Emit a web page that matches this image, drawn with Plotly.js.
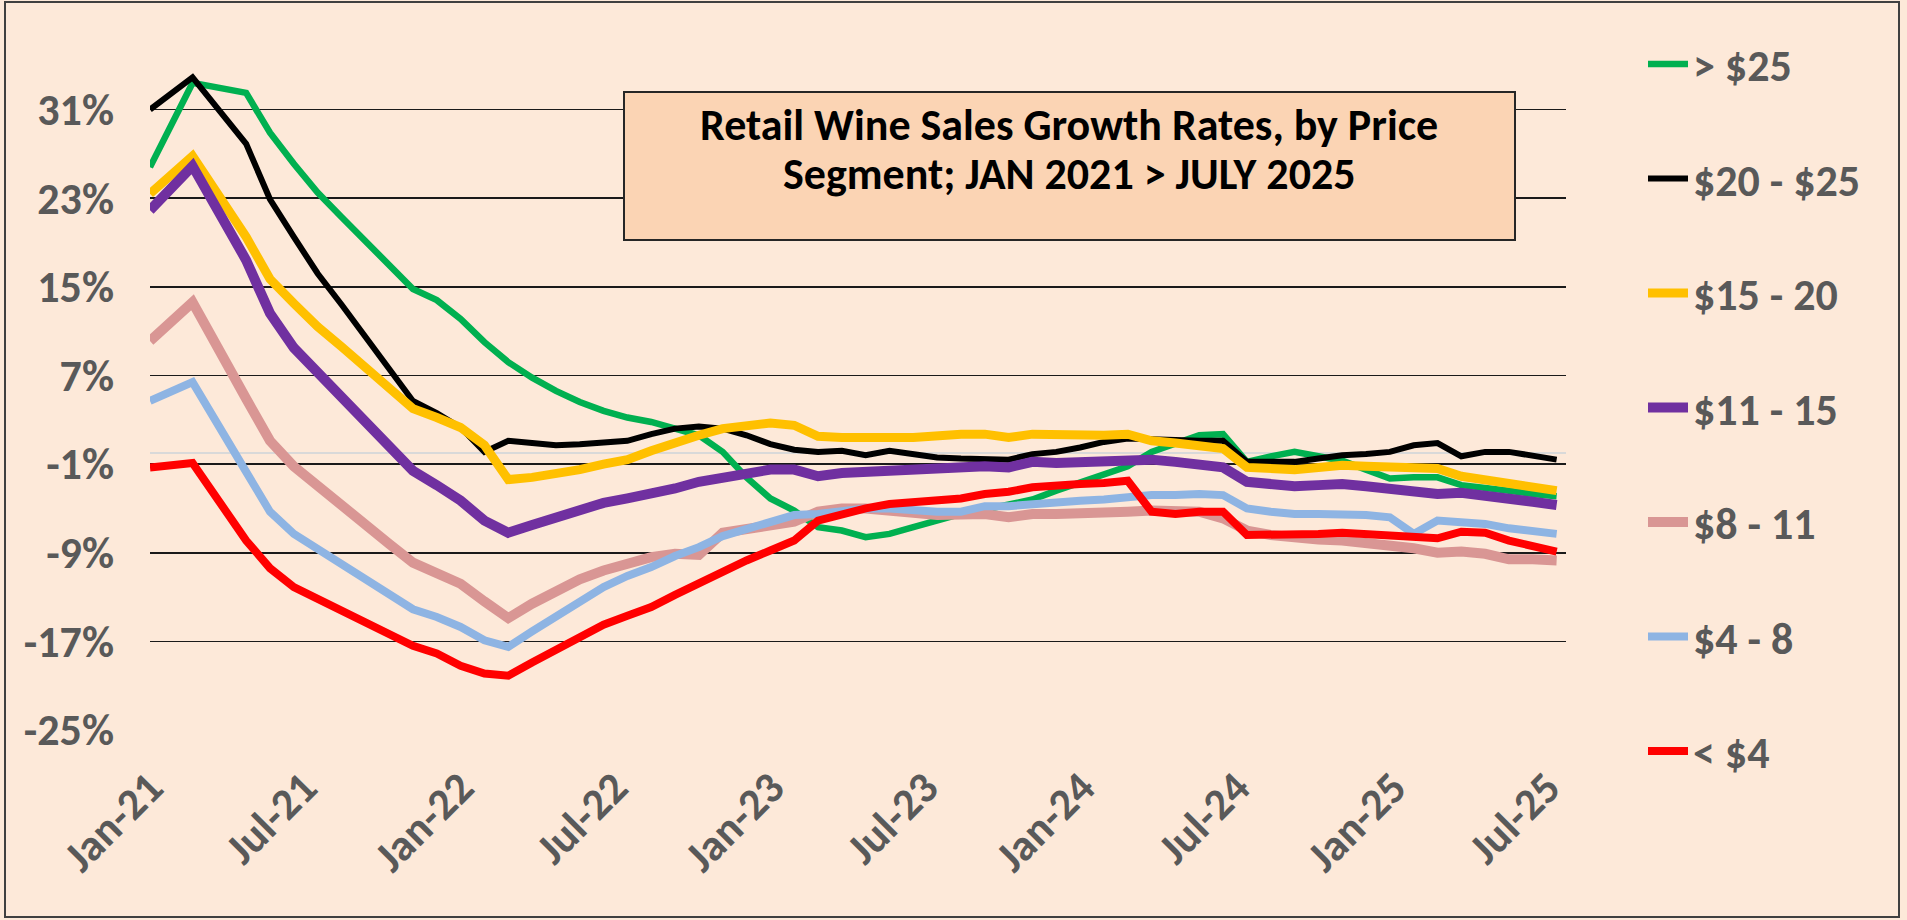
<!DOCTYPE html>
<html>
<head>
<meta charset="utf-8">
<script src="https://cdn.plot.ly/plotly-3.0.1.min.js"></script>
<style>
  html, body { margin: 0; padding: 0; background: #FDE9D9; }
  #chart { width: 1907px; height: 920px; }
</style>
</head>
<body>
<div id="chart"></div>
<script>
// ---- Data (4-week periods) ----
const periods = [
  '2021-01-01','2021-02-20','2021-04-24','2021-05-22','2021-06-19','2021-07-17','2021-08-14','2021-09-11','2021-10-09','2021-11-06',
  '2021-12-04','2022-01-01','2022-01-29','2022-02-26','2022-03-26','2022-04-23','2022-05-21','2022-06-18','2022-07-16','2022-08-13',
  '2022-09-10','2022-10-08','2022-11-05','2022-12-03','2022-12-31','2023-01-28','2023-02-25','2023-03-25','2023-04-22','2023-05-20',
  '2023-06-17','2023-07-15','2023-08-12','2023-09-09','2023-10-07','2023-11-04','2023-12-02','2023-12-30','2024-01-27','2024-02-24',
  '2024-03-23','2024-04-20','2024-05-18','2024-06-15','2024-07-13','2024-08-10','2024-09-07','2024-10-05','2024-11-02','2024-11-30',
  '2024-12-28','2025-01-25','2025-02-22','2025-03-22','2025-04-19','2025-05-17','2025-06-14','2025-07-12'
];

const over25 = [25.8, 33.4, 32.5, 28.9, 26.1, 23.5, 21.3, 19.2, 17.0, 14.8,
  13.8, 12.1, 10.0, 8.2, 6.8, 5.6, 4.6, 3.8, 3.2, 2.8,
  2.2, 1.6, 0.1, -2.2, -4.1, -5.2, -6.7, -7.0, -7.6, -7.3,
  -6.7, -6.1, -5.5, -5.1, -4.7, -4.2, -3.4, -2.7, -1.9, -1.2,
  0.1, 0.9, 1.6, 1.7, -0.8, -0.3, 0.1, -0.3, -0.7, -1.5,
  -2.3, -2.2, -2.2, -2.9, -3.1, -3.4, -3.7, -3.9];

const from20to25 = [31.0, 33.9, 27.9, 22.9, 19.5, 16.2, 13.4, 10.5, 7.6, 4.7,
  3.6, 2.3, 0.1, 1.1, 0.9, 0.7, 0.8, 1.0, 1.1, 1.7,
  2.2, 2.4, 2.2, 1.6, 0.8, 0.3, 0.1, 0.2, -0.2, 0.2,
  -0.1, -0.4, -0.5, -0.5, -0.6, -0.1, 0.1, 0.5, 1.0, 1.3,
  1.2, 1.2, 1.1, 1.1, -0.8, -0.8, -0.8, -0.5, -0.2, -0.1,
  0.1, 0.7, 0.9, -0.3, 0.1, 0.1, -0.2, -0.6];

const from15to20 = [23.4, 26.8, 19.5, 15.7, 13.5, 11.4, 9.6, 7.7, 5.8, 4.0,
  3.2, 2.3, 0.7, -2.4, -2.2, -1.9, -1.5, -1.0, -0.6, 0.2,
  1.0, 1.6, 2.2, 2.5, 2.7, 2.5, 1.5, 1.4, 1.3, 1.4,
  1.4, 1.6, 1.7, 1.7, 1.4, 1.7, 1.6, 1.6, 1.6, 1.7,
  1.1, 0.9, 0.7, 0.4, -1.3, -1.4, -1.5, -1.3, -1.1, -1.2,
  -1.3, -1.3, -1.4, -2.1, -2.4, -2.8, -3.1, -3.4];

const from11to15 = [21.9, 25.9, 17.4, 12.6, 9.5, 7.3, 5.1, 2.9, 0.6, -1.6,
  -2.9, -4.3, -6.1, -7.2, -6.5, -5.8, -5.2, -4.5, -4.1, -3.7,
  -3.2, -2.6, -2.2, -1.9, -1.5, -1.5, -2.1, -1.8, -1.7, -1.5,
  -1.4, -1.3, -1.3, -1.2, -1.3, -0.8, -0.9, -0.8, -0.7, -0.6,
  -0.6, -0.8, -1.0, -1.3, -2.6, -2.8, -3.0, -2.9, -2.8, -3.0,
  -3.2, -3.4, -3.7, -3.6, -3.8, -4.1, -4.4, -4.7];

const from8to11 = [10.1, 13.6, 4.9, 1.1, -1.2, -3.0, -4.7, -6.5, -8.2, -9.9,
  -10.9, -11.8, -13.4, -14.9, -13.6, -12.4, -11.4, -10.6, -10.0, -9.4,
  -9.1, -9.2, -7.2, -6.8, -6.4, -6.2, -5.3, -5.0, -5.0, -5.1,
  -5.4, -5.6, -5.6, -5.5, -5.8, -5.5, -5.5, -5.5, -5.4, -5.3,
  -5.2, -5.2, -5.3, -5.9, -7.0, -7.4, -7.7, -7.8, -7.9, -8.1,
  -8.3, -8.6, -9.0, -8.9, -9.1, -9.6, -9.6, -9.7];

const from4to8 = [4.7, 6.4, -1.7, -5.3, -7.3, -8.7, -10.1, -11.4, -12.8, -14.1,
  -14.8, -15.7, -16.9, -17.5, -16.1, -14.8, -13.4, -12.1, -11.1, -10.3,
  -9.3, -8.5, -7.5, -6.9, -6.2, -5.6, -5.5, -5.2, -5.0, -5.0,
  -5.2, -5.3, -5.3, -4.8, -4.8, -4.6, -4.5, -4.3, -4.2, -4.0,
  -3.8, -3.8, -3.7, -3.8, -5.0, -5.3, -5.5, -5.5, -5.5, -5.6,
  -5.8, -7.3, -6.1, -6.2, -6.4, -6.8, -7.1, -7.3];

const under4 = [-1.3, -0.9, -7.9, -10.4, -12.1, -13.2, -14.2, -15.3, -16.3, -17.4,
  -18.1, -19.2, -19.9, -20.1, -18.9, -17.8, -16.6, -15.5, -14.7, -13.9,
  -12.8, -11.7, -10.7, -9.7, -8.8, -7.9, -6.1, -5.5, -5.0, -4.6,
  -4.4, -4.3, -4.1, -3.7, -3.5, -3.1, -2.9, -2.8, -2.7, -2.5,
  -5.3, -5.5, -5.3, -5.3, -7.4, -7.4, -7.3, -7.3, -7.2, -7.3,
  -7.4, -7.6, -7.7, -7.1, -7.2, -7.9, -8.4, -8.9];

const seriesNames = ['> $25', '$20 - $25', '$15 - 20', '$11 - 15', '$8 - 11', '$4 - 8', '< $4'];
const seriesValues = [over25, from20to25, from15to20, from11to15, from8to11, from4to8, under4];

const yTickValues = [-25, -17, -9, -1, 7, 15, 23, 31];
const xTickDates = ['2021-01-01','2021-07-01','2022-01-01','2022-07-01','2023-01-01','2023-07-01','2024-01-01','2024-07-01','2025-01-01','2025-07-01'];
const xTickLabels = ['Jan-21','Jul-21','Jan-22','Jul-22','Jan-23','Jul-23','Jan-24','Jul-24','Jan-25','Jul-25'];

const titleLines = ['Retail Wine Sales Growth Rates, by Price', 'Segment; JAN 2021 > JULY 2025'];

// ---- Styles ----
const lineColors = ['#00B050', '#000000', '#FFC000', '#7030A0', '#D99694', '#8EB4E3', '#FF0000'];
const lineWidths = [6.5, 6, 9, 10, 10, 8, 8];
const FONT = 'Carlito, Calibri, Lato, "Open Sans", sans-serif';
const GREY = '#595959';
const BG = '#FDE9D9';

// plot box in pixels
const W = 1907, H = 920;
const L = 150, R = 1566, T = 53, B = 730;
const px2x = p => (p - L) / (R - L);
const py2y = p => (B - p) / (B - T);

const traces = seriesValues.map((vals, i) => ({
  type: 'scatter',
  mode: 'lines',
  name: seriesNames[i],
  legendgroup: 'g' + i,
  x: periods,
  y: vals,
  line: { color: lineColors[i], width: lineWidths[i] },
  hoverinfo: 'skip'
}));

const titleY = [125, 174];

const layout = {
  width: W, height: H,
  autosize: false,
  paper_bgcolor: BG,
  plot_bgcolor: BG,
  margin: { l: L, r: W - R, t: T, b: H - B, pad: 0, autoexpand: false },
  font: { family: FONT, color: GREY },
  showlegend: true,
  legend: {
    x: px2x(1643), xanchor: 'left',
    y: py2y(29), yanchor: 'top',
    bgcolor: 'rgba(0,0,0,0)',
    font: { family: FONT, size: 44, color: GREY, weight: 'bold' },
    tracegroupgap: 54.3,
    itemwidth: 40,
    maxheight: 900
  },
  xaxis: {
    type: 'date',
    range: ['2021-01-01', '2025-07-23'],
    showgrid: false,
    zeroline: false,
    showline: false,
    tickmode: 'array',
    tickvals: xTickDates,
    ticktext: xTickLabels,
    tickangle: -45,
    ticks: '',
    ticklabelstandoff: 22,
    tickfont: { family: FONT, size: 44, color: GREY, weight: 'bold' },
    automargin: false,
    fixedrange: true
  },
  yaxis: {
    range: [-25, 36.1],
    showgrid: true,
    gridcolor: '#1a1a1a',
    gridwidth: 1.6,
    zeroline: true,
    zerolinecolor: '#D9D9D9',
    zerolinewidth: 2,
    showline: false,
    tickmode: 'array',
    tickvals: yTickValues,
    ticktext: yTickValues.map(v => v + '%'),
    ticks: '',
    ticklabelstandoff: 35,
    tickfont: { family: FONT, size: 44, color: GREY, weight: 'bold' },
    automargin: false,
    fixedrange: true
  },
  annotations: titleLines.map((t, i) => ({
    xref: 'paper', yref: 'paper',
    x: px2x(1069), y: py2y(titleY[i]),
    xanchor: 'center', yanchor: 'middle',
    text: t,
    showarrow: false,
    font: { family: FONT, size: 44, color: '#000000', weight: 'bold' }
  })),
  shapes: [{
    type: 'rect', xref: 'paper', yref: 'paper',
    x0: px2x(624), x1: px2x(1515), y0: py2y(240), y1: py2y(92),
    line: { color: '#262626', width: 2 },
    fillcolor: '#FBD4B4',
    layer: 'above'
  }, {
    type: 'rect', xref: 'paper', yref: 'paper',
    x0: px2x(5), x1: px2x(1899), y0: py2y(917), y1: py2y(2),
    line: { color: '#404040', width: 2 },
    fillcolor: 'rgba(0,0,0,0)',
    layer: 'above'
  }]
};

Plotly.newPlot('chart', traces, layout, { displayModeBar: false, staticPlot: true });
</script>
</body>
</html>
